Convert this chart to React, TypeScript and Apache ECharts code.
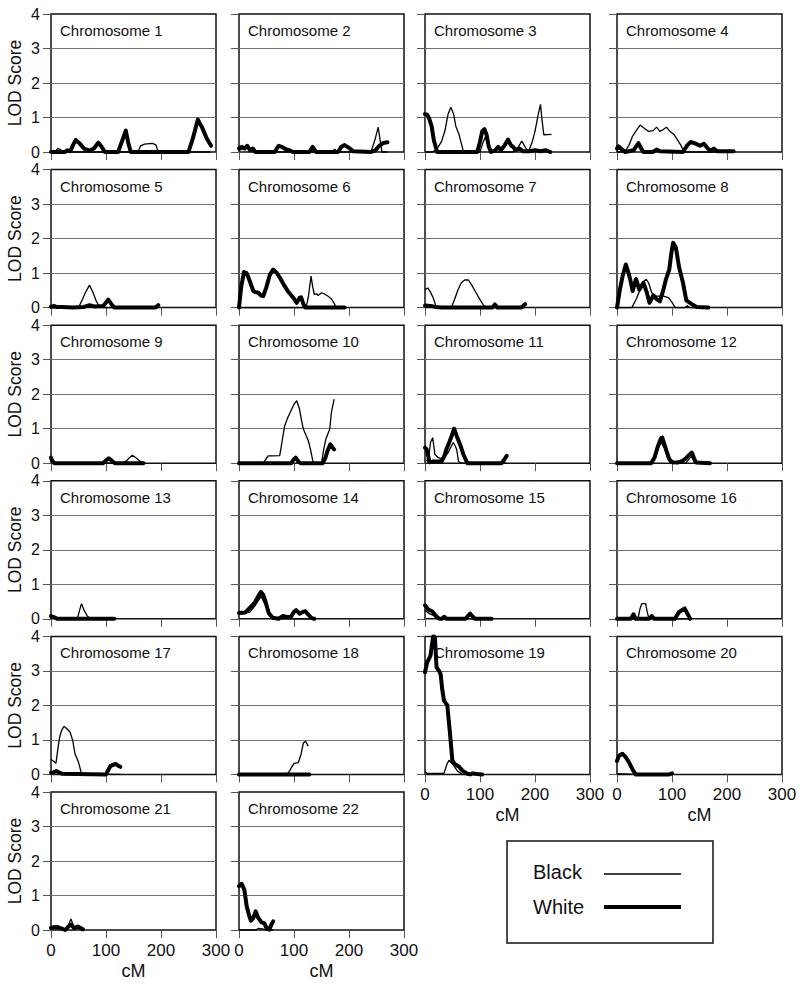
import React, { useEffect, useRef } from "react";
import * as echarts from "echarts";

const chromosomes = [
  "Chromosome 1", "Chromosome 2", "Chromosome 3", "Chromosome 4",
  "Chromosome 5", "Chromosome 6", "Chromosome 7", "Chromosome 8",
  "Chromosome 9", "Chromosome 10", "Chromosome 11", "Chromosome 12",
  "Chromosome 13", "Chromosome 14", "Chromosome 15", "Chromosome 16",
  "Chromosome 17", "Chromosome 18", "Chromosome 19", "Chromosome 20",
  "Chromosome 21", "Chromosome 22",
];
const legendNames = ["Black", "White"];
const xTicks = [0, 100, 200, 300];
const yTicks = [0, 1, 2, 3, 4];

// [cM, LOD]
const black1 = [[0,0],[8,0.02],[12,0.1],[16,0.08],[20,0.03],[26,0],[158,0],[163,0.18],[170,0.23],[185,0.25],[191,0.2],[195,0],[290,0]];
const white1 = [[0,0],[25,0],[30,0.05],[35,0.02],[40,0.2],[45,0.35],[52,0.25],[60,0.1],[70,0.04],[78,0.1],[86,0.27],[92,0.15],[98,0],[122,0],[130,0.35],[136,0.62],[140,0.3],[145,0],[250,0],[258,0.4],[267,0.94],[275,0.7],[283,0.4],[291,0.18]];
const black2 = [[0,0.05],[8,0.1],[14,0.22],[18,0.1],[25,0],[170,0],[174,0.08],[178,0],[240,0],[248,0.4],[253,0.72],[257,0.3],[260,0],[270,0]];
const white2 = [[0,0.1],[5,0.15],[10,0.1],[15,0.18],[20,0.05],[25,0.1],[30,0],[65,0],[72,0.18],[78,0.15],[85,0.08],[92,0.05],[98,0],[128,0],[134,0.15],[140,0],[180,0],[186,0.15],[192,0.2],[200,0.12],[208,0.02],[240,0],[248,0.05],[255,0.18],[262,0.26],[270,0.28]];
const black3 = [[0,0],[14,0],[22,0.1],[30,0.3],[36,0.6],[42,1.1],[47,1.3],[52,1.1],[56,0.75],[62,0.5],[66,0.25],[70,0],[100,0],[106,0.3],[110,0.44],[114,0.2],[118,0],[160,0],[170,0.15],[176,0.32],[182,0.15],[188,0],[195,0.3],[200,0.6],[206,1.1],[210,1.38],[213,0.9],[216,0.5],[230,0.51]];
const white3 = [[0,1.1],[4,1.08],[8,0.95],[12,0.75],[16,0.35],[22,0],[95,0],[100,0.3],[104,0.6],[108,0.66],[112,0.5],[116,0.15],[120,0],[128,0.05],[133,0.15],[138,0.05],[145,0.2],[151,0.36],[156,0.2],[160,0.15],[165,0.05],[172,0.1],[178,0.02],[190,0.02],[200,0.05],[210,0.02],[220,0.05],[228,0]];
const black4 = [[0,0],[14,0],[22,0.2],[28,0.45],[34,0.6],[42,0.78],[50,0.68],[57,0.6],[66,0.62],[72,0.72],[78,0.6],[84,0.65],[90,0.72],[96,0.6],[104,0.5],[110,0.35],[116,0.2],[122,0],[212,0]];
const white4 = [[0,0.1],[3,0.16],[8,0.08],[15,0],[30,0.05],[39,0.26],[44,0.1],[48,0],[65,0],[72,0.07],[78,0.02],[120,0],[128,0.2],[134,0.29],[142,0.25],[151,0.18],[158,0.24],[164,0.12],[170,0.03],[176,0.1],[182,0.02],[212,0.02]];
const black5 = [[0,0],[50,0],[56,0.2],[63,0.45],[70,0.65],[76,0.45],[82,0.2],[89,0],[195,0]];
const white5 = [[0,0.02],[5,0.05],[10,0.02],[20,0.02],[40,0],[60,0.02],[70,0.07],[80,0.03],[95,0.05],[104,0.23],[110,0.1],[115,0],[190,0],[195,0.07]];
const black6 = [[0,0],[122,0],[126,0.3],[131,0.91],[134,0.6],[137,0.38],[141,0.4],[144,0.35],[150,0.43],[155,0.4],[162,0.33],[168,0.25],[172,0.15],[177,0],[192,0]];
const white6 = [[0,0],[4,0.6],[9,1.03],[14,1.0],[20,0.75],[26,0.48],[30,0.45],[35,0.43],[40,0.35],[44,0.33],[50,0.6],[56,0.95],[62,1.1],[68,1.02],[75,0.85],[83,0.62],[90,0.45],[99,0.28],[105,0.14],[110,0.28],[113,0.3],[117,0.1],[121,0],[192,0]];
const black7 = [[0,0.52],[5,0.57],[10,0.45],[15,0.28],[21,0],[48,0],[54,0.25],[60,0.52],[66,0.72],[72,0.8],[79,0.8],[85,0.65],[91,0.48],[100,0.23],[106,0.08],[111,0],[182,0]];
const white7 = [[0,0.06],[10,0.05],[20,0.02],[30,0],[122,0],[127,0.09],[132,0],[175,0],[182,0.1]];
const black8 = [[0,0],[27,0],[35,0.25],[42,0.52],[48,0.75],[53,0.82],[58,0.7],[63,0.43],[72,0.33],[85,0.33],[94,0.28],[100,0.15],[106,0],[124,0],[128,0.05],[132,0],[166,0]];
const white8 = [[0,0],[5,0.5],[10,0.9],[16,1.25],[20,1.05],[24,0.82],[28.5,0.48],[34.5,0.83],[40.6,0.52],[48,0.72],[54,0.45],[59,0.14],[66,0.35],[73,0.23],[78,0.18],[84,0.5],[89,0.82],[95,1.1],[99,1.6],[102,1.88],[107,1.74],[113,1.16],[120,0.72],[126,0.21],[138,0.08],[145,0.02],[166,0]];
const black9 = [[0,0.1],[4,0],[130,0],[136,0.05],[142,0.15],[148,0.23],[155,0.15],[162,0.05],[168,0.03]];
const white9 = [[0,0.16],[3,0.05],[6,0],[95,0],[100,0.08],[105,0.14],[110,0.08],[116,0],[168,0]];
const black10 = [[0,0],[44,0],[48,0.1],[53,0.21],[60,0.21],[74,0.22],[78,0.6],[83,1.08],[88,1.3],[93,1.47],[100,1.71],[105,1.81],[110,1.57],[113,1.3],[117,0.99],[122,0.8],[126,0.65],[130,0.4],[135,0],[150,0],[154,0.4],[158,0.7],[165,0.99],[168,1.47],[173,1.86]];
const white10 = [[0,0],[95,0],[99,0.1],[103,0.16],[108,0.05],[112,0],[152,0],[157,0.15],[161,0.36],[166,0.55],[170,0.45],[173,0.4]];
const black11 = [[0,0.1],[6,0.05],[10,0.6],[14,0.74],[18,0.26],[24,0.16],[33,0.12],[42,0.31],[48,0.5],[51.5,0.6],[55,0.5],[57.6,0.4],[61,0.05],[66,0],[148,0]];
const white11 = [[0,0.45],[3,0.4],[6,0.2],[8,0.03],[15,0.05],[30,0.05],[35,0.2],[39,0.41],[44,0.6],[48.5,0.79],[53,1.0],[57.6,0.79],[63.6,0.55],[69.7,0.26],[77,0],[139,0],[144,0.1],[148.5,0.21]];
const black12 = [[0,0],[62,0],[70,0.3],[80,0.6],[86,0.45],[92,0.15],[98,0],[125,0],[135,0.2],[142,0],[169,0]];
const white12 = [[0,0],[62,0],[68,0.15],[74.5,0.5],[80,0.72],[82.4,0.74],[86,0.55],[90,0.36],[95,0.12],[100,0.03],[110,0.02],[118,0.06],[124,0.12],[130,0.22],[136,0.31],[140,0.15],[144,0.02],[169,0]];
const black13 = [[0,0.03],[10,0],[48,0],[52,0.25],[55.5,0.44],[60,0.25],[66,0.08],[72,0],[115,0]];
const white13 = [[0,0.08],[5,0.05],[11,0],[115,0]];
const black14 = [[0,0.12],[20,0.2],[30,0.4],[40,0.65],[48,0.4],[55,0.1],[62,0],[137,0]];
const white14 = [[0,0.17],[11,0.18],[20,0.32],[28,0.45],[35,0.65],[40,0.78],[44,0.7],[48,0.51],[54,0.17],[61,0.03],[72,0],[80,0.08],[88,0.05],[94,0.05],[100,0.2],[104,0.25],[110,0.15],[116,0.2],[121,0.22],[126,0.12],[132,0.02],[137,0]];
const black15 = [[0,0.25],[8,0.15],[15,0.1],[22,0],[121,0]];
const white15 = [[0,0.39],[6,0.27],[13,0.22],[20,0.08],[26,0],[31,0],[35,0.06],[39,0],[74,0],[78,0.08],[82,0.15],[87,0.06],[91,0],[121,0]];
const black16 = [[0,0],[38,0],[42,0.3],[45,0.44],[52,0.44],[55,0.2],[58,0],[133,0]];
const white16 = [[0,0],[25,0],[30,0.13],[34,0],[58,0],[63,0.08],[68,0],[105,0],[113,0.2],[123,0.3],[128,0.15],[133,0]];
const black17 = [[0,0.43],[5,0.38],[9,0.32],[13,0.8],[16,1.1],[19.4,1.28],[23.6,1.39],[28.5,1.33],[34.5,1.23],[39.4,0.99],[43.6,0.6],[49.7,0.37],[55.8,0],[126,0]];
const white17 = [[0,0.05],[5,0.06],[10,0.1],[15,0.05],[20,0.02],[100,0],[104,0.12],[108,0.24],[113,0.28],[118,0.3],[122,0.25],[126,0.22]];
const black18 = [[0,0],[87,0],[92,0.1],[96,0.22],[100,0.32],[108,0.34],[113,0.6],[117,0.91],[121,0.96],[126,0.82]];
const white18 = [[0,0],[128,0]];
const black19 = [[0,0.08],[4,0.03],[20,0.03],[34.5,0.03],[40,0.3],[43.6,0.41],[51.5,0.27],[58.8,0.1],[68,0],[104,0]];
const white19 = [[0,2.96],[4,3.25],[10,3.44],[13,3.8],[15,4.0],[18,3.98],[21,3.1],[25.5,3.0],[28.5,2.9],[31,2.5],[34.5,2.14],[40.6,2.0],[45.5,1.18],[49.7,0.41],[54,0.3],[62,0.22],[68,0.11],[77,0.02],[83,0],[86,0.03],[95,0.01],[104,0]];
const black20 = [[0,0.02],[34,0],[100,0]];
const white20 = [[0,0.39],[3.6,0.54],[9.7,0.6],[15.8,0.5],[21.8,0.35],[27.9,0.15],[34,0],[95,0],[100,0.03]];
const black21 = [[0,0.04],[10,0.05],[20,0.03],[29,0],[33,0.2],[36.4,0.32],[39,0.2],[42,0.05],[50,0.05],[58,0]];
const white21 = [[0,0.06],[5,0.08],[11,0.09],[16,0.06],[20,0.04],[26,0],[32,0.11],[37,0.16],[42,0.05],[48.5,0.1],[54.5,0.05],[58,0.02]];
const black22 = [[0,0],[30,0],[36,0.05],[42,0.03],[50,0],[62,0]];
const white22 = [[0,1.27],[4.8,1.34],[9.7,1.17],[14,0.69],[18.8,0.4],[21.8,0.27],[26,0.35],[30.3,0.54],[35,0.35],[41,0.22],[45.9,0.2],[50,0.06],[55,0.01],[59,0.16],[62,0.25]];

const blackData = [black1, black2, black3, black4, black5, black6, black7, black8, black9, black10, black11, black12, black13, black14, black15, black16, black17, black18, black19, black20, black21, black22];
const whiteData = [white1, white2, white3, white4, white5, white6, white7, white8, white9, white10, white11, white12, white13, white14, white15, white16, white17, white18, white19, white20, white21, white22];

export default function App() {
  const ref = useRef<HTMLDivElement>(null);
  useEffect(() => {
    if (!ref.current) return;
    const chart = echarts.init(ref.current, null, { renderer: "svg" });
    const font = "'Liberation Sans', Arial, Helvetica, sans-serif";
    const colLefts = [51, 239, 425, 617];
    const plotW = 165;
    const plotH = 138;
    const rowStep = 155.6;
    const top0 = 14;
    const grids: any[] = [];
    const xAxes: any[] = [];
    const yAxes: any[] = [];
    const series: any[] = [];
    const titles: any[] = [];
    const n = chromosomes.length;
    const splitColors = yTicks.map((t, k) => (k === 0 || k === yTicks.length - 1 ? "rgba(0,0,0,0)" : "#707070"));
    chromosomes.forEach((name, i) => {
      const row = Math.floor(i / 4);
      const col = i % 4;
      const left = colLefts[col];
      const top = top0 + row * rowStep;
      const bottomPanel = i >= n - 4;
      grids.push({ left, top, width: plotW, height: plotH, show: true, borderColor: "#111", borderWidth: 1.5, backgroundColor: "transparent" });
      xAxes.push({
        type: "value", gridIndex: i,
        min: xTicks[0], max: xTicks[xTicks.length - 1], interval: xTicks[1] - xTicks[0],
        axisLine: { show: false },
        axisTick: { show: true, inside: false, length: 8, lineStyle: { color: "#555", width: 1 } },
        splitLine: { show: false },
        axisLabel: { show: bottomPanel, margin: 12, fontSize: 17, color: "#111", fontFamily: font },
        name: bottomPanel ? "cM" : "", nameLocation: "middle", nameGap: 32,
        nameTextStyle: { fontSize: 18, color: "#111", fontFamily: font },
      });
      yAxes.push({
        type: "value", gridIndex: i,
        min: yTicks[0], max: yTicks[yTicks.length - 1], interval: yTicks[1] - yTicks[0],
        axisLine: { show: false },
        axisTick: { show: true, inside: false, length: 8, lineStyle: { color: "#555", width: 1 } },
        splitLine: { show: true, lineStyle: { color: splitColors, width: 1 } },
        axisLabel: { show: col === 0, margin: 11, fontSize: 16, lineHeight: 16, color: "#111", fontFamily: font },
        name: col === 0 ? "LOD Score" : "", nameLocation: "middle", nameRotate: 90, nameGap: 27,
        nameTextStyle: { fontSize: 17.5, color: "#111", fontFamily: font },
      });
      titles.push({ text: name, left: left + 9, top: top + 9, padding: 0, z: 1, textStyle: { fontSize: 15, fontWeight: "normal", color: "#111", fontFamily: font } });
      series.push({
        type: "line", name: legendNames[0], xAxisIndex: i, yAxisIndex: i, data: blackData[i],
        showSymbol: false, symbol: "none", clip: false, z: 3,
        lineStyle: { color: "#000", width: 1.3 },
      });
      series.push({
        type: "line", name: legendNames[1], xAxisIndex: i, yAxisIndex: i, data: whiteData[i],
        showSymbol: false, symbol: "none", clip: false, z: 4,
        lineStyle: { color: "#000", width: 4, join: "round", cap: "round" },
      });
    });

    const graphic = [
      { type: "rect", shape: { x: 507, y: 841, width: 206, height: 102 }, style: { fill: "#fff", stroke: "#111", lineWidth: 1.5 } },
      { type: "text", x: 533, y: 872, style: { text: legendNames[0], font: `20px ${font}`, fill: "#111", textVerticalAlign: "middle", verticalAlign: "middle" } },
      { type: "line", shape: { x1: 604, y1: 874, x2: 681, y2: 874 }, style: { stroke: "#000", lineWidth: 1.5 } },
      { type: "text", x: 533, y: 907, style: { text: legendNames[1], font: `20px ${font}`, fill: "#111", textVerticalAlign: "middle", verticalAlign: "middle" } },
      { type: "line", shape: { x1: 604, y1: 907, x2: 681, y2: 907 }, style: { stroke: "#000", lineWidth: 4 } },
    ];

    chart.setOption({
      animation: false,
      backgroundColor: "#fff",
      title: titles,
      grid: grids,
      xAxis: xAxes,
      yAxis: yAxes,
      series,
      graphic,
    });
    return () => chart.dispose();
  }, []);
  return <div ref={ref} style={{ position: "absolute", left: 0, top: 0, width: 800, height: 984 }} />;
}
